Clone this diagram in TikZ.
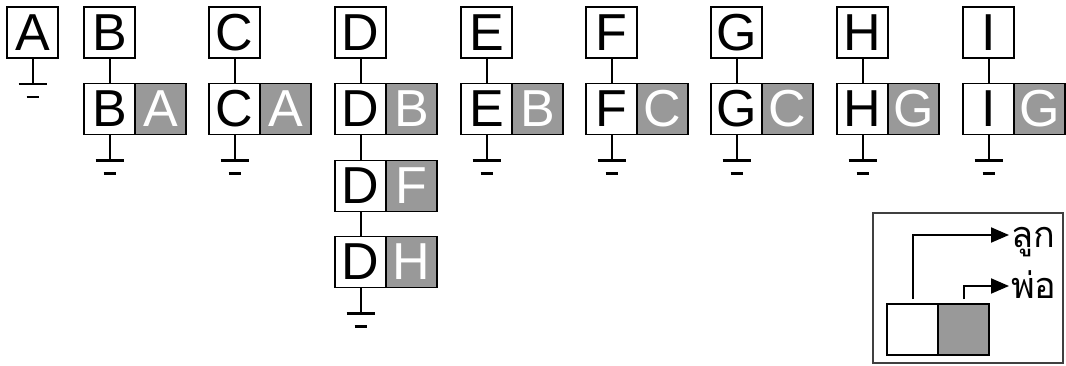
\documentclass[tikz,border=0pt]{standalone}
\usepackage{fontspec}
\setmainfont{Liberation Sans}
\newfontfamily\thaifont[Script=Thai]{Loma}
\usetikzlibrary{positioning}
\usetikzlibrary{arrows.meta}

\tikzset{
  keybox/.style={draw, line width=1.6pt, minimum size=51pt, inner sep=0pt, outer sep=0pt,
    font=\fontsize{52}{52}\selectfont},
  parentbox/.style={keybox, fill=black!40, text=white},
  wire/.style={line width=2pt},
  gndbar/.style={line width=2.8pt},
  thaitext/.style={font={\thaifont\fontsize{36}{36}\selectfont}, anchor=base west, inner sep=0pt},
  tip/.style={-{Triangle[length=18pt,width=15pt]}},
}
% ground symbol below a box
\newcommand{\gnd}[1]{%
  \coordinate (#1g) at ([yshift=-26pt]#1.south);
  \draw[wire] (#1.south) -- (#1g);
  \draw[gndbar] ([xshift=-14pt]#1g) -- ([xshift=14pt]#1g);
  \draw[gndbar] ([xshift=-6pt,yshift=-13pt]#1g) -- ([xshift=6pt,yshift=-13pt]#1g);
}

\begin{document}
\begin{tikzpicture}[x=1pt,y=-1pt]
	\useasboundingbox (0,0) rectangle (1066,365);

	% first key
	\node[keybox] (A1) at (32.5,32.5) {A};
	\gnd{A1}

	% each key with its parent
	\foreach \k/\p/\x in {B/A/109.5, C/A/234.5, D/B/360.5, E/B/486.5,
		F/C/611.5, G/C/736.5, H/G/862.5, I/G/988.5}{
		\node[keybox] (\k1) at (\x,32.5) {\k};
		\node[keybox] (\k2) at (\x,109) {\k};
		\node[parentbox, right=0pt of \k2] (\k2p) {\p};
		\draw[wire] (\k1) -- (\k2);
	}
	\foreach \k in {B,C,E,F,G,H,I}{\gnd{\k2}}

	% D has three parents
	\node[keybox] (D3) at (360.5,186) {D};
	\node[parentbox, right=0pt of D3] (D3p) {F};
	\node[keybox] (D4) at (360.5,262) {D};
	\node[parentbox, right=0pt of D4] (D4p) {H};
	\draw[wire] (D2) -- (D3);
	\draw[wire] (D3) -- (D4);
	\gnd{D4}

	% legend
	\draw[line width=1.2pt, black!75] (873,213) rectangle (1063,363);
	\node[keybox] (kidbox) at (912.5,329.5) {};
	\node[parentbox, right=0pt of kidbox] (dadbox) {};
	\node[thaitext] (kidtxt) at (1011,247) {ลูก};
	\node[thaitext] (dadtxt) at (1011,298) {พ่อ};
	\coordinate (kidtip) at (1009,235);
	\coordinate (dadtip) at (1009,286);
	\draw[wire, tip] ([yshift=5pt]kidbox.north) |- (kidtip);
	\draw[wire, tip] ([yshift=5pt]dadbox.north) |- (dadtip);
\end{tikzpicture}
\end{document}
